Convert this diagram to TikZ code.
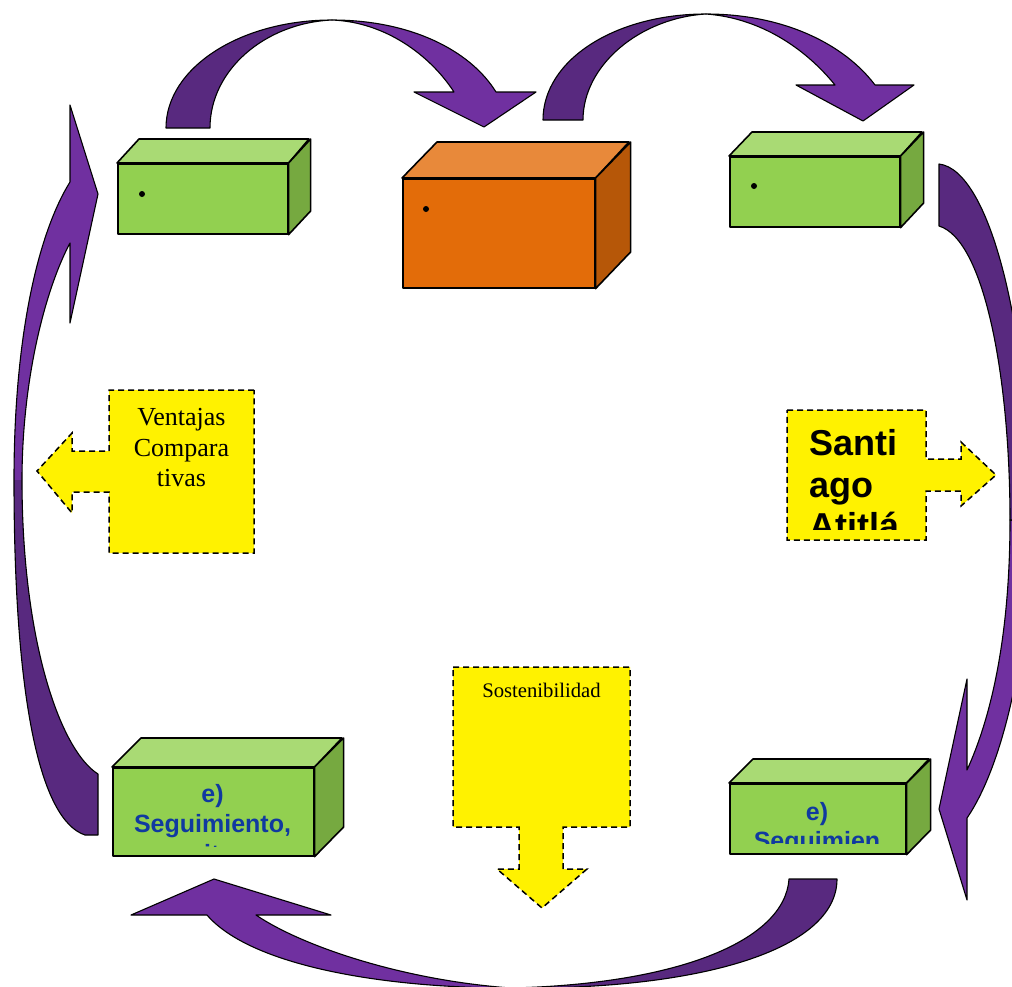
\documentclass[tikz,border=0pt]{standalone}
\usepackage{fontspec}
\setmainfont{Liberation Serif}
\newfontfamily\arialfont{Liberation Sans}
\definecolor{pdark}{HTML}{58297F}
\definecolor{plight}{HTML}{7030A0}
\definecolor{gfr}{HTML}{92D050}
\definecolor{gtp}{HTML}{A9DA74}
\definecolor{gsd}{HTML}{76A940}
\definecolor{ofr}{HTML}{E36C09}
\definecolor{otp}{HTML}{E8893A}
\definecolor{osd}{HTML}{B65708}
\definecolor{bluetxt}{RGB}{16,58,160}
\tikzset{
  arrdark/.style={fill=pdark, draw=black, line width=1.1pt, line join=round},
  arrlight/.style={fill=plight, draw=black, line width=1.1pt, line join=round},
  arroutline/.style={draw=black, line width=1.1pt, line join=round},
  facebox/.style={draw=black, line width=1.6pt, line join=round, inner sep=0pt, anchor=north west},
  gfront/.style={facebox, fill=gfr},
  ofront/.style={facebox, fill=ofr},
  faceline/.style={draw=black, line width=1.6pt, line join=round},
  callout/.style={fill=yellow, draw=black, line width=1.5pt, dash pattern=on 6pt off 4pt},
  bullet/.style={circle, fill=black, inner sep=0pt, minimum size=6pt},
  bluetext/.style={font=\arialfont\bfseries\fontsize{25}{29}\selectfont, text=bluetxt, anchor=base, inner sep=0pt},
  santext/.style={font=\arialfont\bfseries\fontsize{36}{41}\selectfont, anchor=base west, inner sep=0pt},
  serif25/.style={font=\fontsize{26}{30}\selectfont, anchor=base, inner sep=0pt},
  serif20/.style={font=\fontsize{20.7}{24}\selectfont, anchor=base, inner sep=0pt}
}
\begin{document}
\begin{tikzpicture}[x=1pt,y=-1pt]
\useasboundingbox (0,0) rectangle (1012,986);
\begin{scope}
\clip (0,0) rectangle (1012,986);
% top-left arc arrow
\path[arrlight] (332,20) .. controls (410,20) and (470,50) .. (496,92) -- (536,92) -- (484,127) -- (414,92) -- (454,92) .. controls (430,55) and (385,22) .. (332,20) -- cycle;
\path[arrdark] (166,128) .. controls (166,68) and (240,20) .. (332,20) .. controls (265,23) and (210,70) .. (210,128) -- cycle;
% top-right arc arrow
\path[arrlight] (706,14) .. controls (785,14) and (845,45) .. (875,85) -- (914,85) -- (863,121) -- (796,85) -- (835,85) .. controls (805,48) and (760,18) .. (706,14) -- cycle;
\path[arrdark] (543,120) .. controls (543,60) and (615,14) .. (706,14) .. controls (640,18) and (583,65) .. (583,120) -- cycle;
% right arc arrow
\path[arrlight] (1010,520) .. controls (1010,640) and (990,720) .. (967,770) -- (967,679) -- (939,809) -- (967,900) -- (967,818) .. controls (1000,770) and (1030,660) .. (1030,520) -- cycle;
\path[arrdark] (939,164) .. controls (990,170) and (1030,330) .. (1030,520) -- (1010,520) .. controls (1010,380) and (985,240) .. (939,226) -- cycle;
% bottom arc arrow
\path[arrlight] (511,988) .. controls (380,988) and (250,965) .. (207,915) -- (131,915) -- (214,879) -- (331,915) -- (256,915) .. controls (300,945) and (400,980) .. (511,988) -- cycle;
\path[arrdark] (837,879) .. controls (837,950) and (700,990) .. (511,988) .. controls (680,984) and (785,940) .. (789,879) -- cycle;
% left arc arrow (fills, then one outline)
\fill[plight] (14,480) .. controls (14,330) and (40,230) .. (70,182) -- (70,105) -- (98,194) -- (70,323) -- (70,243) .. controls (45,290) and (22,380) .. (22,480) -- cycle;
\fill[pdark] (14,480) .. controls (14,700) and (40,820) .. (85,835) -- (98,835) -- (98,774) .. controls (60,750) and (22,640) .. (22,480) -- cycle;
\path[arroutline] (70,182) .. controls (40,230) and (14,330) .. (14,480) .. controls (14,700) and (40,820) .. (85,835) -- (98,835) -- (98,774) .. controls (60,750) and (22,640) .. (22,480) .. controls (22,380) and (45,290) .. (70,243) -- (70,323) -- (98,194) -- (70,105) -- cycle;
\end{scope}

% box 1 (top left, green)
\node[gfront, minimum width=170pt, minimum height=70pt] (b1) at (117,163) {};
\path[faceline, fill=gtp] (b1.north west) -- ++(22,-24) -- ++(170,0) -- (b1.north east) -- cycle;
\path[faceline, fill=gsd] (b1.north east) -- ++(22,-24) -- ++(0,72) -- (b1.south east) -- cycle;
\node[bullet] (d1) at (142,194) {};

% box 2 (top centre, orange)
\node[ofront, minimum width=192pt, minimum height=109pt] (b2) at (402,178) {};
\path[faceline, fill=otp] (b2.north west) -- ++(35,-36) -- ++(192,0) -- (b2.north east) -- cycle;
\path[faceline, fill=osd] (b2.north east) -- ++(35,-36) -- ++(0,110) -- (b2.south east) -- cycle;
\node[bullet] (d2) at (426,209) {};

% box 3 (top right, green)
\node[gfront, minimum width=170pt, minimum height=70pt] (b3) at (729,156) {};
\path[faceline, fill=gtp] (b3.north west) -- ++(23,-24) -- ++(170,0) -- (b3.north east) -- cycle;
\path[faceline, fill=gsd] (b3.north east) -- ++(23,-24) -- ++(0,71) -- (b3.south east) -- cycle;
\node[bullet] (d3) at (754,186) {};

% box 4 (bottom left, green)
\node[gfront, minimum width=201pt, minimum height=88pt] (b4) at (112,767) {};
\path[faceline, fill=gtp] (b4.north west) -- ++(29,-29) -- ++(201,0) -- (b4.north east) -- cycle;
\path[faceline, fill=gsd] (b4.north east) -- ++(29,-29) -- ++(0,89) -- (b4.south east) -- cycle;
\begin{scope}
\clip (112,767) rectangle (313,846);
\node[bluetext] (t4a) at (212.5,802) {e)};
\node[bluetext] (t4b) at (212.5,832) {Seguimiento,};
\node[bluetext] (t4c) at (212.5,862) {monitoreo};
\end{scope}

% box 5 (bottom right, green)
\node[gfront, minimum width=176pt, minimum height=70pt] (b5) at (729,783) {};
\path[faceline, fill=gtp] (b5.north west) -- ++(24,-24) -- ++(176,0) -- (b5.north east) -- cycle;
\path[faceline, fill=gsd] (b5.north east) -- ++(24,-24) -- ++(0,71) -- (b5.south east) -- cycle;
\begin{scope}
\clip (729,783) rectangle (905,843);
\node[bluetext] (t5a) at (817,820) {e)};
\node[bluetext] (t5b) at (817,849) {Seguimien};
\end{scope}

% callout left
\path[callout] (254,390) -- (109,390) -- (109,451) -- (72,451) -- (72,433) -- (37,471) -- (72,513) -- (72,492) -- (109,492) -- (109,553) -- (254,553) -- cycle;
\node[serif25] (v1) at (181.5,425) {Ventajas};
\node[serif25] (v2) at (181.5,456) {Compara};
\node[serif25] (v3) at (181.5,486) {tivas};

% callout right
\path[callout] (787,410) -- (926,410) -- (926,459) -- (961,459) -- (961,442) -- (996,475) -- (961,506) -- (961,491) -- (926,491) -- (926,540) -- (787,540) -- cycle;
\begin{scope}
\clip (787,410) rectangle (900,529);
\node[santext] (s1) at (809,455) {Santi};
\node[santext] (s2) at (809,497) {ago};
\node[santext] (s3) at (809,538) {Atitlán};
\end{scope}

% callout bottom
\path[callout] (453,667) -- (630,667) -- (630,827) -- (563,827) -- (563,869) -- (587,869) -- (542,908) -- (497,869) -- (519,869) -- (519,827) -- (453,827) -- cycle;
\node[serif20] (so) at (541.5,697) {Sostenibilidad};
\end{tikzpicture}
\end{document}
